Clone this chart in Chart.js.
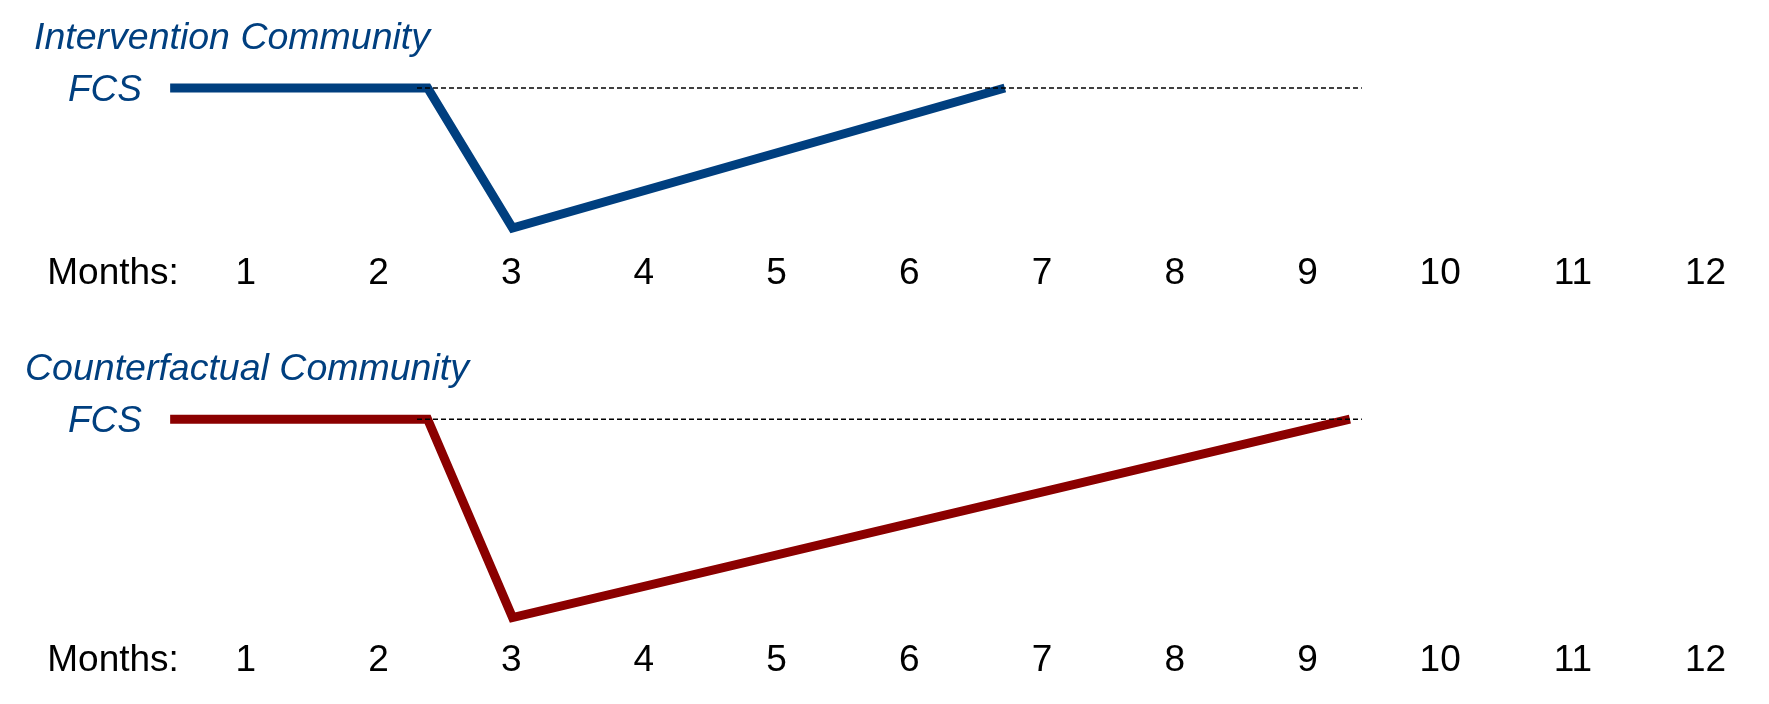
<!DOCTYPE html>
<html>
<head>
<meta charset="utf-8">
<script src="https://cdn.jsdelivr.net/npm/chart.js@4.4.1/dist/chart.umd.min.js"></script>
<style>
  html, body { margin: 0; padding: 0; background: #ffffff; }
  #wrap { position: relative; width: 1769px; height: 704px; overflow: hidden; }
  .panel { position: absolute; left: 0; width: 1769px; }
  #p1 { top: 0; height: 331px; }
  #p2 { top: 331px; height: 373px; }
</style>
</head>
<body>
<div id="wrap">
  <div class="panel" id="p1"><canvas id="c1"></canvas></div>
  <div class="panel" id="p2"><canvas id="c2"></canvas></div>
</div>
<script>
// ---- data ----
const monthTicks = [0, 1, 2, 3, 4, 5, 6, 7, 8, 9, 10, 11, 12];
const monthLabels = ['Months:', '1', '2', '3', '4', '5', '6', '7', '8', '9', '10', '11', '12'];
const fcsTicks = [1];
const fcsLabels = ['FCS'];

const interventionTitle = 'Intervention Community';
const interventionX = [0.43, 2.37, 3.01, 6.72];
const interventionY = [1, 1, 0.3, 1];
const interventionRefX = [2.29, 9.41];
const interventionRefY = [1, 1];

const counterfactualTitle = 'Counterfactual Community';
const counterfactualX = [0.43, 2.37, 3.01, 9.32];
const counterfactualY = [1, 1, 0, 1];
const counterfactualRefX = [2.29, 9.41];
const counterfactualRefY = [1, 1];

// ---- style ----
const BLUE = '#003f7f';
const RED = '#8b0000';
const FONT = "'Liberation Sans', Arial, sans-serif";

function pts(xs, ys) { return xs.map((x, i) => ({ x: x, y: ys[i] })); }

function makeChart(canvasId, title, xs, ys, refX, refY, color, yMin, yMax, padLeft, padBottom) {
  const axisWidth = 60 - padLeft;
  return new Chart(document.getElementById(canvasId), {
    type: 'line',
    data: {
      datasets: [
        {
          data: pts(refX, refY),
          borderColor: '#000000',
          borderWidth: 1.5,
          borderDash: [5, 3],
          pointRadius: 0,
          fill: false,
          order: 0
        },
        {
          data: pts(xs, ys),
          borderColor: color,
          borderWidth: 9,
          pointRadius: 0,
          tension: 0,
          fill: false,
          borderJoinStyle: 'miter',
          borderCapStyle: 'butt',
          order: 1
        }
      ]
    },
    options: {
      responsive: true,
      maintainAspectRatio: false,
      animation: false,
      devicePixelRatio: 1,
      layout: { padding: { left: padLeft, right: 17, top: 0, bottom: padBottom } },
      plugins: {
        legend: { display: false },
        tooltip: { enabled: false },
        title: {
          display: true,
          text: title,
          align: 'start',
          color: BLUE,
          font: { family: FONT, size: 37.5, style: 'italic', weight: 'normal', lineHeight: 1.2 },
          padding: { top: 16.5, bottom: 8.5 }
        }
      },
      scales: {
        x: {
          type: 'linear',
          min: -0.4,
          max: 12.35,
          grid: { display: false, drawTicks: false },
          border: { display: false },
          afterBuildTicks: (s) => { s.ticks = monthTicks.map(v => ({ value: v })); },
          ticks: {
            autoSkip: false,
            maxRotation: 0,
            minRotation: 0,
            padding: 6,
            color: '#000000',
            font: { family: FONT, size: 37 },
            callback: (v, i) => monthLabels[i]
          }
        },
        y: {
          type: 'linear',
          position: 'left',
          min: yMin,
          max: yMax,
          grid: { display: false, drawTicks: false },
          border: { display: false },
          afterBuildTicks: (s) => { s.ticks = fcsTicks.map(v => ({ value: v })); },
          afterFit: (s) => { s.width = axisWidth; },
          ticks: {
            mirror: true,
            padding: 8,
            labelOffset: 3,
            color: BLUE,
            font: { family: FONT, size: 37, style: 'italic' },
            callback: (v, i) => fcsLabels[i]
          }
        }
      }
    }
  });
}

makeChart('c1', interventionTitle, interventionX, interventionY,
  interventionRefX, interventionRefY, BLUE, 0.21, 1.09, 34, 28.6);
makeChart('c2', counterfactualTitle, counterfactualX, counterfactualY,
  counterfactualRefX, counterfactualRefY, RED, -0.075, 1.0914, 25, 15.1);
</script>
</body>
</html>
